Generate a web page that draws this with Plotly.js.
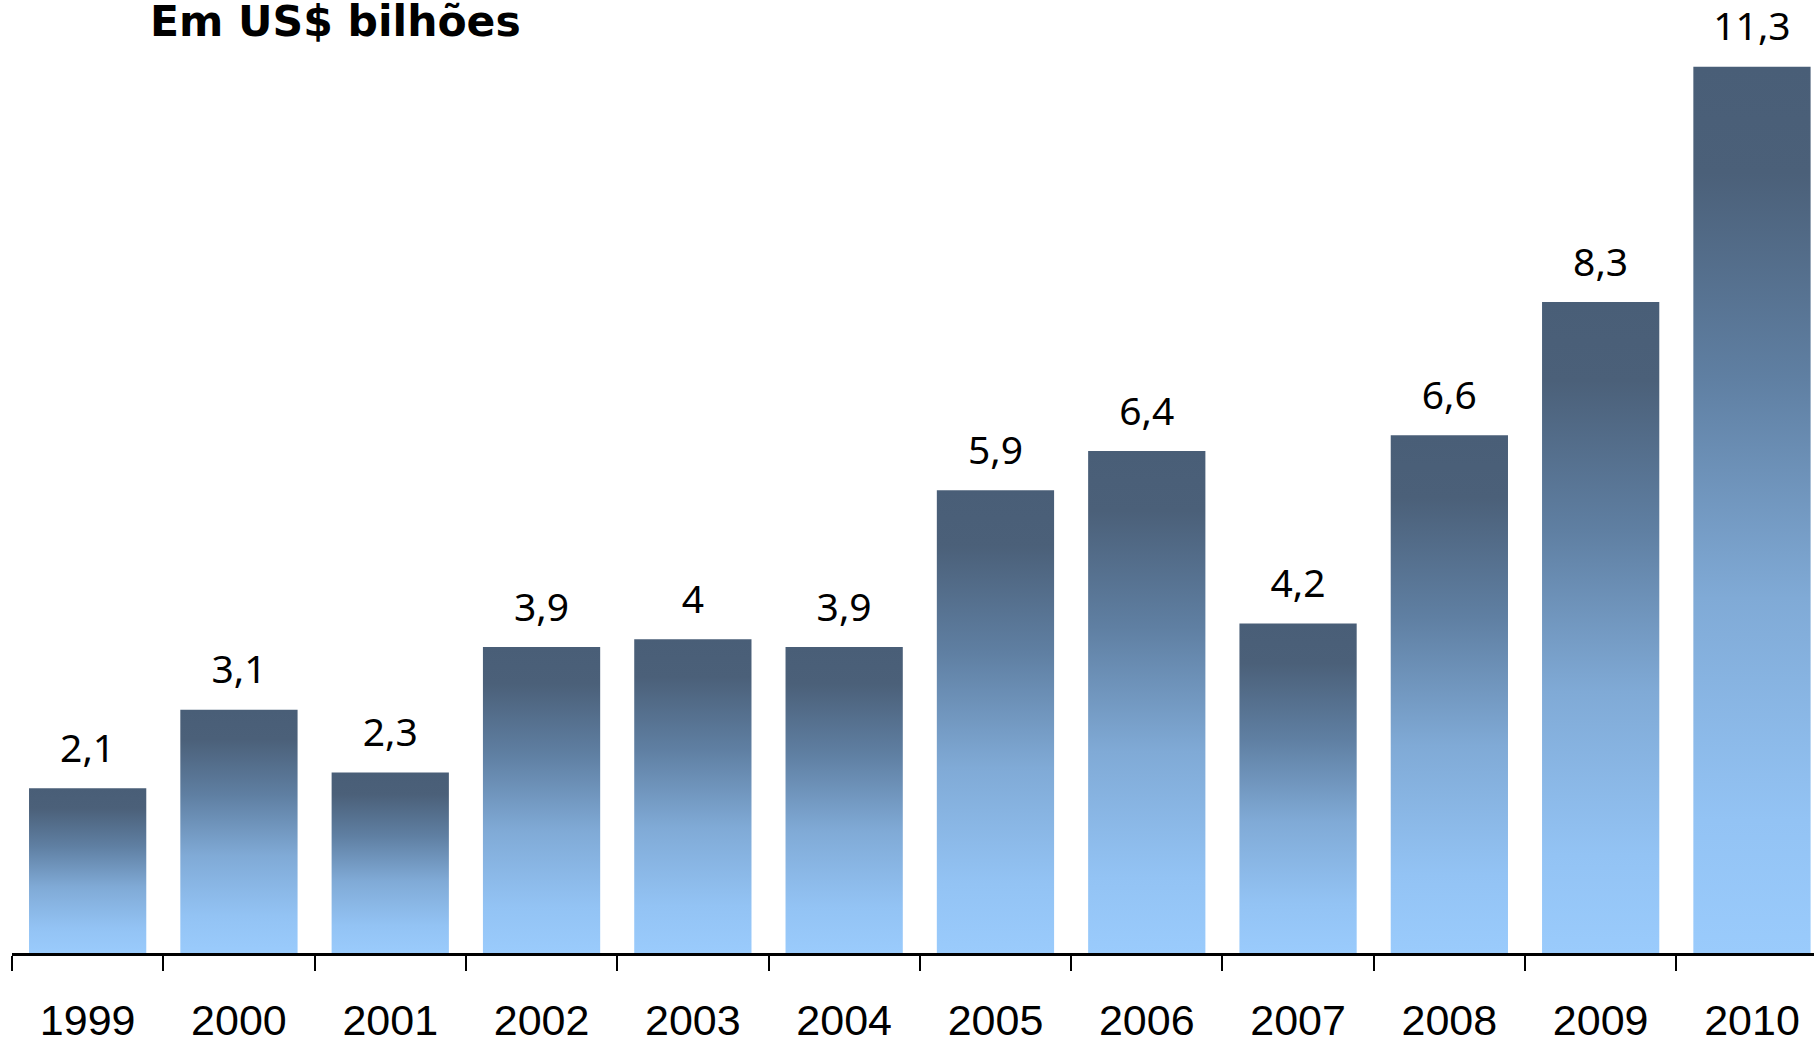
<!DOCTYPE html>
<html>
<head>
<meta charset="utf-8">
<script src="https://cdn.plot.ly/plotly-3.0.1.min.js"></script>
<style>
html,body{margin:0;padding:0;background:#fff;}
#chart{width:1814px;height:1043px;}
</style>
</head>
<body>
<div id="chart"></div>
<script>
const years = ['1999','2000','2001','2002','2003','2004','2005','2006','2007','2008','2009','2010'];
const values = [2.1, 3.1, 2.3, 3.9, 4, 3.9, 5.9, 6.4, 4.2, 6.6, 8.3, 11.3];
const valueLabels = ['2,1','3,1','2,3','3,9','4','3,9','5,9','6,4','4,2','6,6','8,3','11,3'];
const titleText = 'Em US$ bilhões';

const barTrace = {
  type: 'bar',
  x: years,
  y: values,
  marker: {color: '#7aa2cc', line: {width: 0}},
  hoverinfo: 'none'
};

const labelTrace = {
  type: 'scatter',
  mode: 'markers+text',
  x: years,
  y: values,
  text: valueLabels,
  textposition: 'top center',
  textfont: {family: 'Noto Sans', size: 39, color: '#000'},
  marker: {size: 25, opacity: 0, color: '#fff'},
  cliponaxis: false,
  hoverinfo: 'none'
};

const layout = {
  width: 1814, height: 1043,
  margin: {l: 12, r: 0, t: 0, b: 90, pad: 0},
  paper_bgcolor: '#fff', plot_bgcolor: '#fff',
  bargap: 0.225,
  showlegend: false,
  title: {
    text: '<b>' + titleText + '</b>',
    font: {family: 'DejaVu Sans', size: 42.5, color: '#000'},
    xref: 'container', yref: 'container',
    x: 150/1814, xanchor: 'left',
    y: 1 - 36/1043, yanchor: 'bottom', pad: {t: 0, b: 0, l: 0, r: 0}
  },
  xaxis: {
    type: 'category',
    range: [-0.5, 11.41],
    showline: true, linecolor: '#000', linewidth: 2.5,
    ticks: 'outside', tickson: 'boundaries', ticklen: 15, tickwidth: 2, tickcolor: '#000',
    ticklabelstandoff: 28,
    tickfont: {family: 'Liberation Sans', size: 43, color: '#000'},
    showgrid: false, zeroline: false, fixedrange: true
  },
  yaxis: {
    range: [0, 12.15],
    showticklabels: false, showline: false, ticks: '',
    showgrid: false, zeroline: false, fixedrange: true
  }
};

Plotly.newPlot('chart', [barTrace, labelTrace], layout, {displayModeBar: false, staticPlot: true}).then(gd => {
  const svg = gd.querySelector('.main-svg');
  const ns = 'http://www.w3.org/2000/svg';
  let defs = svg.querySelector('defs');
  if (!defs) { defs = document.createElementNS(ns, 'defs'); svg.insertBefore(defs, svg.firstChild); }
  const grad = document.createElementNS(ns, 'linearGradient');
  grad.setAttribute('id', 'barGrad');
  grad.setAttribute('x1', '0'); grad.setAttribute('y1', '0');
  grad.setAttribute('x2', '0'); grad.setAttribute('y2', '1');
  const stops = [[0,'#495e77'],[0.12,'#4b6079'],[0.35,'#5f7fa2'],[0.6,'#80aad6'],[0.85,'#93c3f4'],[1,'#9acbfc']];
  stops.forEach(([o,c]) => {
    const s = document.createElementNS(ns, 'stop');
    s.setAttribute('offset', o); s.setAttribute('stop-color', c);
    grad.appendChild(s);
  });
  defs.appendChild(grad);
  gd.querySelectorAll('.bars .point path').forEach(p => { p.style.fill = 'url(#barGrad)'; });
});
</script>
</body>
</html>
